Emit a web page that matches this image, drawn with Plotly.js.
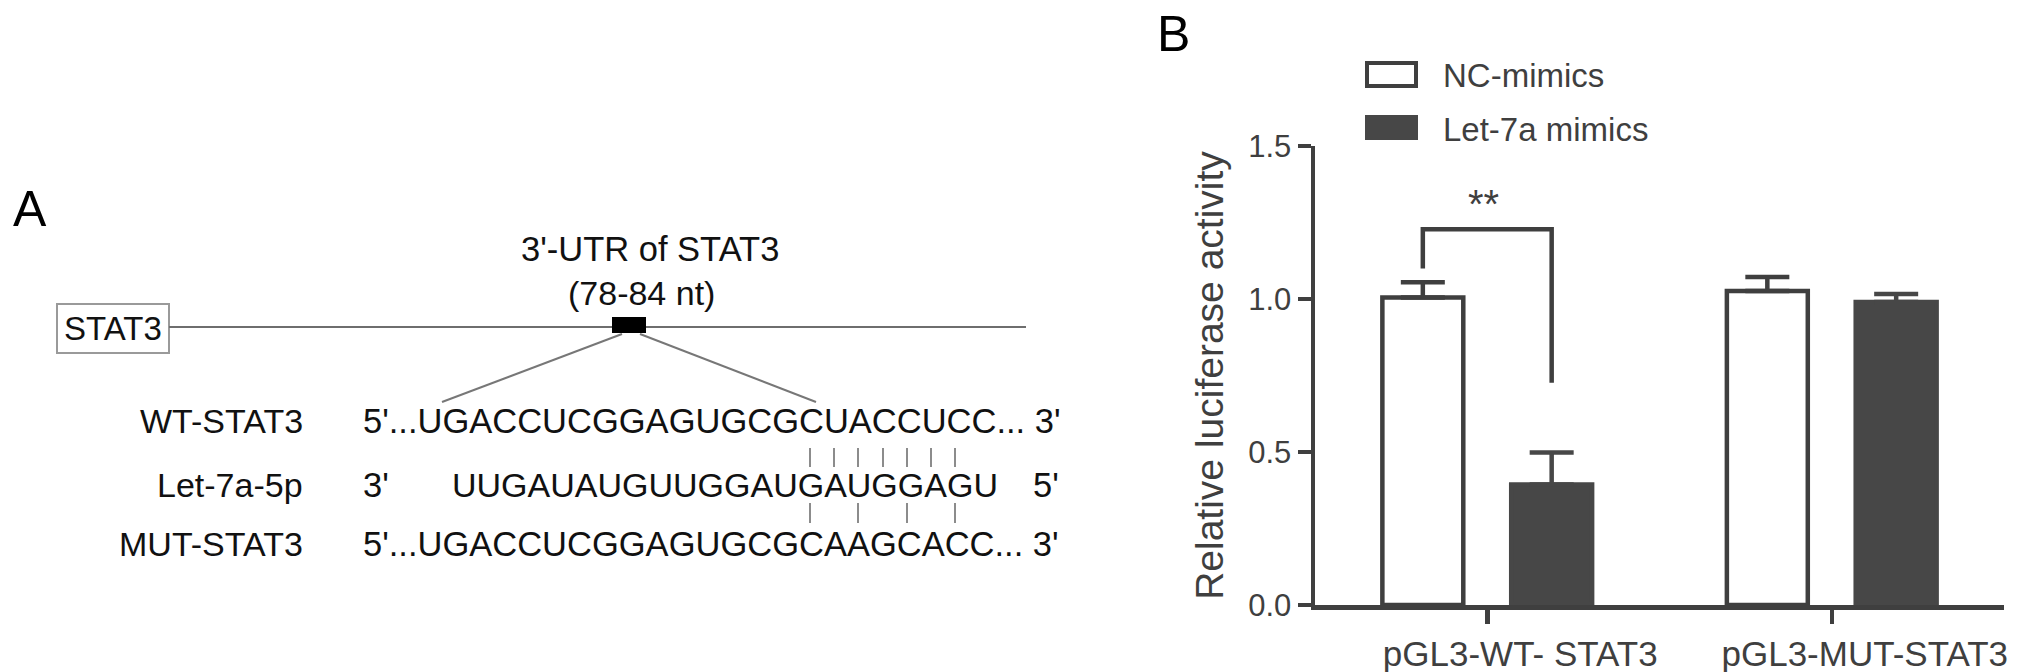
<!DOCTYPE html>
<html>
<head>
<meta charset="utf-8">
<script src="https://cdn.plot.ly/plotly-3.0.1.min.js"></script>
<style>
html, body { margin: 0; padding: 0; background: #ffffff; }
#chart { width: 2031px; height: 672px; }
</style>
</head>
<body>
<div id="chart"></div>
<script>
// ---------------- DATA (panel B) ----------------
const categories = ['pGL3-WT- STAT3', 'pGL3-MUT-STAT3'];
const seriesNames = ['NC-mimics', 'Let-7a mimics'];
const ncMimics = [1.005, 1.026];
const ncMimicsErr = [0.05, 0.046];
const let7aMimics = [0.394, 0.99];
const let7aMimicsErr = [0.104, 0.026];
const yTickVals = [0, 0.5, 1.0, 1.5];
const yTickText = ['0.0', '0.5', '1.0', '1.5'];
const yTitle = 'Relative luciferase activity';
const sigLabel = '**';
const sigBracketLevels = [1.228, 1.10, 0.726]; // top bar, left leg end, right leg end

// ---------------- TEXT (panel A) ----------------
const panelLabels = ['A', 'B'];
const siteTitle = ["3'-UTR of STAT3", '(78-84 nt)'];
const geneName = 'STAT3';
const seqLabels = ['WT-STAT3', 'Let-7a-5p', 'MUT-STAT3'];
const seqWT = "5'...UGACCUCGGAGUGCGCUACCUCC... 3'";
const seqLetEnds = ["3'", "5'"];
const seqLet = 'UUGAUAUGUUGGAUGAUGGAGU';
const seqMUT = "5'...UGACCUCGGAGUGCGCAAGCACC... 3'";

// ---------------- LAYOUT CONSTANTS ----------------
const W = 2031, H = 672;
const FONT = 'Liberation Sans, Arial, Helvetica, sans-serif';
const AX = '#3f3f3f';
const DARK = '#474747';
const TXT_A = '#111111';
const px = x => x / W;
const py = y => 1 - y / H;

const bargap = 0.252, bargroupgap = 0.372;
const barOffset = (1 - bargap) / 4;

// pairing tick positions (pixels) for diagram in panel A
const pairX = [810, 834, 858, 883, 907, 931, 955];
const mutPairIdx = [0, 2, 4, 6];

const traces = [
  {
    type: 'bar', name: seriesNames[0], x: categories, y: ncMimics,
    marker: { color: '#ffffff', line: { color: AX, width: 4.5 } },
    error_y: { type: 'data', symmetric: false, array: ncMimicsErr, arrayminus: ncMimicsErr.map(() => 0),
               color: AX, thickness: 4.5, width: 22 },
    showlegend: false, hoverinfo: 'skip'
  },
  {
    type: 'bar', name: seriesNames[1], x: categories, y: let7aMimics,
    marker: { color: DARK, line: { color: DARK, width: 4.5 } },
    error_y: { type: 'data', symmetric: false, array: let7aMimicsErr, arrayminus: let7aMimicsErr.map(() => 0),
               color: DARK, thickness: 4.5, width: 22 },
    showlegend: false, hoverinfo: 'skip'
  }
];

const shapes = [];
const annotations = [];

// ---- significance bracket (data coords)
shapes.push({
  type: 'path', xref: 'x', yref: 'y',
  path: 'M' + (-barOffset) + ',' + sigBracketLevels[1] +
        ' L' + (-barOffset) + ',' + sigBracketLevels[0] +
        ' L' + (barOffset) + ',' + sigBracketLevels[0] +
        ' L' + (barOffset) + ',' + sigBracketLevels[2],
  line: { color: AX, width: 4.5 }
});
annotations.push({
  xref: 'x', yref: 'y', x: -0.01, y: 1.31, text: sigLabel, showarrow: false,
  xanchor: 'center', yanchor: 'middle', font: { size: 40, color: AX, family: FONT }
});

// ---- manual legend
const legFill = ['#ffffff', DARK];
const legLine = [AX, DARK];
const legBoxY = [[63, 86], [117, 138]];
const legTextY = [75, 129];
seriesNames.forEach((nm, i) => {
  shapes.push({ type: 'rect', xref: 'paper', yref: 'paper',
    x0: px(1367), x1: px(1416), y0: py(legBoxY[i][1]), y1: py(legBoxY[i][0]),
    fillcolor: legFill[i], line: { color: legLine[i], width: 4 } });
  annotations.push({ xref: 'paper', yref: 'paper', x: px(1441), y: py(legTextY[i]),
    text: nm, showarrow: false, xanchor: 'left', yanchor: 'middle',
    font: { size: 33, color: AX, family: FONT } });
});

// ---- panel letters
annotations.push({ xref: 'paper', yref: 'paper', x: px(11), y: py(209), text: panelLabels[0],
  showarrow: false, xanchor: 'left', yanchor: 'middle', font: { size: 50, color: '#000', family: FONT } });
annotations.push({ xref: 'paper', yref: 'paper', x: px(1155), y: py(34), text: panelLabels[1],
  showarrow: false, xanchor: 'left', yanchor: 'middle', font: { size: 50, color: '#000', family: FONT } });

// ---- panel A diagram
const ann = (x, y, text, xanchor, size) => annotations.push({
  xref: 'paper', yref: 'paper', x: px(x), y: py(y), text: text, showarrow: false,
  xanchor: xanchor, yanchor: 'middle', font: { size: size, color: TXT_A, family: FONT } });

ann(650, 249, siteTitle[0], 'center', 34.5);
ann(641, 293, siteTitle[1], 'center', 34);
ann(113, 329, geneName, 'center', 33);

// gene box
shapes.push({ type: 'rect', xref: 'paper', yref: 'paper', x0: px(57), x1: px(169), y0: py(353), y1: py(304),
  line: { color: '#9a9a9a', width: 2 }, fillcolor: 'rgba(0,0,0,0)' });
// main line
shapes.push({ type: 'line', xref: 'paper', yref: 'paper', x0: px(169), x1: px(1026), y0: py(327), y1: py(327),
  line: { color: '#6e6e6e', width: 2 } });
// target site block
shapes.push({ type: 'rect', xref: 'paper', yref: 'paper', x0: px(612), x1: px(646), y0: py(333), y1: py(317),
  line: { color: '#000', width: 0 }, fillcolor: '#000' });
// zoom lines
shapes.push({ type: 'line', xref: 'paper', yref: 'paper', x0: px(622), y0: py(334), x1: px(442), y1: py(402),
  line: { color: '#777', width: 2 } });
shapes.push({ type: 'line', xref: 'paper', yref: 'paper', x0: px(640), y0: py(334), x1: px(816), y1: py(402),
  line: { color: '#777', width: 2 } });

const rowY = [421, 485, 544];
ann(305, rowY[0], seqLabels[0], 'right', 34);
ann(305, rowY[1], seqLabels[1], 'right', 34);
ann(305, rowY[2], seqLabels[2], 'right', 34);
ann(361, rowY[0], seqWT, 'left', 34.5);
ann(361, rowY[1], seqLetEnds[0], 'left', 34.5);
ann(450, rowY[1], seqLet, 'left', 34);
ann(1061, rowY[1], seqLetEnds[1], 'right', 34.5);
ann(361, rowY[2], seqMUT, 'left', 34.5);

pairX.forEach(x => shapes.push({ type: 'line', xref: 'paper', yref: 'paper', x0: px(x), x1: px(x),
  y0: py(467), y1: py(448), line: { color: '#666', width: 1.5 } }));
mutPairIdx.forEach(i => shapes.push({ type: 'line', xref: 'paper', yref: 'paper', x0: px(pairX[i]), x1: px(pairX[i]),
  y0: py(523), y1: py(503), line: { color: '#666', width: 1.5 } }));

const layout = {
  width: W, height: H,
  margin: { l: 0, r: 0, t: 0, b: 0 },
  paper_bgcolor: '#ffffff', plot_bgcolor: 'rgba(0,0,0,0)',
  font: { family: FONT, color: AX },
  barmode: 'group', bargap: bargap, bargroupgap: bargroupgap,
  showlegend: false,
  xaxis: {
    type: 'category', domain: [px(1315), px(2004)], range: [-0.5, 1.5],
    showline: true, linecolor: AX, linewidth: 4.5, mirror: false,
    ticks: 'outside', ticklen: 14, tickwidth: 4.5, tickcolor: AX,
    tickfont: { size: 35, color: AX, family: FONT }, ticklabelshift: 33,
    showgrid: false, zeroline: false, fixedrange: true
  },
  yaxis: {
    domain: [py(605), py(146)], range: [0, 1.5],
    tickvals: yTickVals, ticktext: yTickText,
    showline: true, linecolor: AX, linewidth: 4.5,
    ticks: 'outside', ticklen: 13, tickwidth: 4.5, tickcolor: AX,
    tickfont: { size: 31, color: AX, family: FONT },
    title: { text: yTitle, font: { size: 39, color: AX, family: FONT }, standoff: 14 },
    showgrid: false, zeroline: false, fixedrange: true
  },
  shapes: shapes,
  annotations: annotations
};

Plotly.newPlot('chart', traces, layout, { displayModeBar: false, staticPlot: true });
</script>
</body>
</html>
